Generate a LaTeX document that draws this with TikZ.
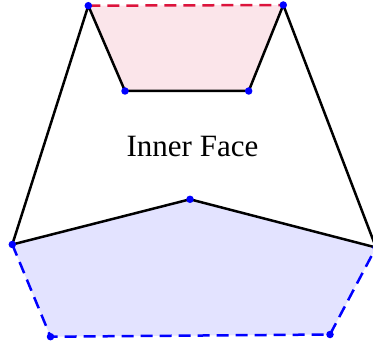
\documentclass[tikz,border=0pt]{standalone}
\usepackage{fontspec}
\setmainfont{Liberation Serif}
\definecolor{crimsonx}{RGB}{220,20,60}
\begin{document}
\begin{tikzpicture}[x=1pt,y=-1pt,
  edge/.style={black,line width=2.5pt,line join=round},
  reddash/.style={crimsonx,line width=2.5pt,dash pattern=on 12pt off 7pt},
  bluedash/.style={blue,line width=2.5pt,dash pattern=on 12pt off 7pt},
  pinkfill/.style={fill=crimsonx!11},
  bluefill/.style={fill=blue!11},
  vdot/.style={circle,fill=blue,inner sep=0pt,minimum size=7.5pt}]
\useasboundingbox (0,0) rectangle (373,345);
\coordinate (A) at (88.3,5.7);
\coordinate (B) at (283.3,5);
\coordinate (C) at (125,91);
\coordinate (D) at (248.7,91);
\coordinate (E) at (12.3,244.5);
\coordinate (F) at (190,199.3);
\coordinate (G) at (376,247.5);
\coordinate (H) at (50.5,336.7);
\coordinate (I) at (330,334.5);
\fill[pinkfill] (A)--(B)--(D)--(C)--cycle;
\fill[bluefill] (E)--(F)--(G)--(I)--(H)--cycle;
\draw[edge] (E)--(A)--(C)--(D)--(B)--(G);
\draw[edge] (E)--(F)--(G);
\draw[reddash] (A)--(B);
\draw[bluedash] (E)--(H)--(I)--(G);
\foreach \p in {A,B,C,D,E,F,G,H,I} \node[vdot] (dot\p) at (\p) {};
\node[anchor=base,font=\fontsize{31}{37}\selectfont,inner sep=0pt] (label) at (192.5,157) {Inner Face};
\end{tikzpicture}
\end{document}
